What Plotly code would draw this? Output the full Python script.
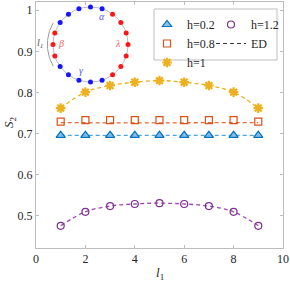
import numpy as np
import plotly.graph_objects as go

# ---------------- data ----------------
l1 = [1, 2, 3, 4, 5, 6, 7, 8, 9]
s2_h02 = [0.696, 0.696, 0.696, 0.696, 0.696, 0.696, 0.696, 0.696, 0.696]
s2_h08 = [0.729, 0.733, 0.733, 0.733, 0.733, 0.733, 0.733, 0.733, 0.729]
s2_h1 = [0.762, 0.801, 0.817, 0.825, 0.829, 0.825, 0.817, 0.801, 0.762]
s2_h12 = [0.476, 0.510, 0.524, 0.529, 0.531, 0.529, 0.524, 0.510, 0.476]

ed_h02 = [0.696, 0.696, 0.696, 0.696, 0.696, 0.696, 0.696, 0.696, 0.696]
ed_h08 = [0.727, 0.726, 0.726, 0.726, 0.726, 0.726, 0.726, 0.726, 0.727]
ed_h1 = [0.762, 0.801, 0.817, 0.825, 0.829, 0.825, 0.817, 0.801, 0.762]
ed_h12 = [0.476, 0.510, 0.524, 0.529, 0.531, 0.529, 0.524, 0.510, 0.476]

x_ticks = [0, 2, 4, 6, 8, 10]
y_ticks = [0.5, 0.6, 0.7, 0.8, 0.9, 1.0]
y_tick_labels = ["0.5", "0.6", "0.7", "0.8", "0.9", "1"]

# inset schematic: 20 sites on a ring
site_angles_deg = [90, 72, 54, 36, 18, 0, -18, -36, -54, -72,
                   -90, -108, -126, -144, -162, 180, 162, 144, 126, 108]
site_colors = ["b", "b", "r", "r", "r", "r", "r", "r", "r", "b",
               "b", "b", "b", "b", "r", "r", "r", "b", "b", "b"]

# ---------------- styles ----------------
FONT = "Liberation Serif"
C_BLUE = "#0072BD"
C_ORANGE = "#D95319"
C_YELLOW = "#EDB120"
C_PURPLE = "#7E2F8E"
AX_COLOR = "#BDBDBD"
DASH = "4px,3px"

W, H = 290, 281
ML, MR, MT, MB = 36, 7, 2, 33
PW, PH = W - ML - MR, H - MT - MB


def px2paper_x(px):
    return (px - ML) / PW


def px2paper_y(py):
    return (H - MB - py) / PH


fig = go.Figure()

# ED dashed curves
for ys, col, shape in [(ed_h02, "#4DA3DF", "linear"), (ed_h08, "#E46A3C", "linear"),
                       (ed_h1, C_YELLOW, "spline"), (ed_h12, "#9A4DAA", "spline")]:
    fig.add_trace(go.Scatter(x=l1, y=ys, mode="lines", showlegend=False,
                             line=dict(color=col, width=1.3, dash=DASH, shape=shape),
                             hoverinfo="skip"))

# markers
fig.add_trace(go.Scatter(x=l1, y=s2_h02, mode="markers", name="h=0.2", legend="legend",
                         marker=dict(symbol="triangle-up", size=8, color="rgba(120,180,230,0.85)",
                                     line=dict(color=C_BLUE, width=1.2))))
fig.add_trace(go.Scatter(x=l1, y=s2_h08, mode="markers", name="h=0.8", legend="legend",
                         marker=dict(symbol="square-open", size=7, color=C_ORANGE,
                                     line=dict(width=1.2))))
fig.add_trace(go.Scatter(x=l1, y=s2_h1, mode="markers", name="h=1", legend="legend",
                         marker=dict(symbol="asterisk-open", size=8, color=C_YELLOW,
                                     line=dict(color=C_YELLOW, width=2.2))))
fig.add_trace(go.Scatter(x=l1, y=s2_h12, mode="markers", name="h=1.2", legend="legend2",
                         marker=dict(symbol="circle-open", size=7, color=C_PURPLE,
                                     line=dict(width=1.2))))
fig.add_trace(go.Scatter(x=[None], y=[None], mode="lines", name="ED", legend="legend2",
                         line=dict(color="#333333", width=1.2, dash=DASH)))

# ---------------- inset ring ----------------
theta = np.linspace(0, 2 * np.pi, 200)
fig.add_trace(go.Scatter(x=np.cos(theta), y=np.sin(theta), mode="lines", xaxis="x2", yaxis="y2",
                         line=dict(color="#A8A8A8", width=0.8), showlegend=False, hoverinfo="skip"))
arc = np.deg2rad(np.linspace(150, 210, 40))
fig.add_trace(go.Scatter(x=1.15 * np.cos(arc), y=1.15 * np.sin(arc), mode="lines", xaxis="x2",
                         yaxis="y2", line=dict(color="#8C8C8C", width=0.9), showlegend=False,
                         hoverinfo="skip"))
ang = np.deg2rad(site_angles_deg)
cmap = {"b": "#1515FF", "r": "#FF1515"}
fig.add_trace(go.Scatter(x=np.cos(ang), y=np.sin(ang), mode="markers", xaxis="x2", yaxis="y2",
                         marker=dict(size=5, color=[cmap[c] for c in site_colors]),
                         showlegend=False, hoverinfo="skip"))

inset_labels = [("α", 0.30, 0.74, "#5A5AF5"), ("β", -0.78, 0.02, "#F55A5A"),
                ("λ", 0.72, 0.02, "#F55A5A"), ("γ", -0.24, -0.70, "#5A5AF5"),
                ("l<sub>1</sub>", -1.36, 0.02, "#555555")]
annotations = []
for t, x, y, c in inset_labels:
    annotations.append(dict(text=f"<i>{t}</i>", x=x, y=y, xref="x2", yref="y2", showarrow=False,
                            font=dict(family=FONT, size=10, color=c)))

# axis titles
annotations.append(dict(text="<i>l</i><sub>1</sub>", x=px2paper_x(160), y=px2paper_y(273),
                        xref="paper", yref="paper", showarrow=False, xanchor="center",
                        yanchor="middle", font=dict(family=FONT, size=13, color="#262626")))
annotations.append(dict(text="<i>S</i><sub>2</sub>", x=px2paper_x(9), y=px2paper_y(122),
                        xref="paper", yref="paper", showarrow=False, xanchor="center",
                        yanchor="middle", textangle=-90,
                        font=dict(family=FONT, size=13, color="#262626")))

# legend box
shapes = [dict(type="rect", xref="paper", yref="paper",
               x0=px2paper_x(154), x1=px2paper_x(277), y0=px2paper_y(60), y1=px2paper_y(9),
               line=dict(color="#BDBDBD", width=1), fillcolor="white", layer="below")]

axis_common = dict(showgrid=False, zeroline=False, showline=True, linecolor=AX_COLOR, linewidth=1,
                   mirror="ticks", ticks="inside", ticklen=3, tickcolor=AX_COLOR,
                   ticklabeloverflow="allow",
                   tickfont=dict(family=FONT, size=12, color="#262626"))

fig.update_layout(
    width=W, height=H,
    margin=dict(l=ML, r=MR, t=MT, b=MB, pad=0),
    paper_bgcolor="white", plot_bgcolor="rgba(0,0,0,0)",
    font=dict(family=FONT, color="#262626"),
    hovermode=False,
    xaxis=dict(range=[0, 10.001], tickvals=x_ticks, **axis_common),
    yaxis=dict(range=[0.422, 1.02], tickvals=y_ticks, ticktext=y_tick_labels, **axis_common),
    xaxis2=dict(domain=[px2paper_x(38), px2paper_x(143)], range=[-1.4, 1.4], visible=False,
                anchor="y2"),
    yaxis2=dict(domain=[px2paper_y(87), px2paper_y(2)], range=[-1.133, 1.133], visible=False,
                anchor="x2"),
    legend=dict(x=px2paper_x(147), y=px2paper_y(10), xanchor="left", yanchor="top",
                bgcolor="rgba(0,0,0,0)", borderwidth=0, itemwidth=30, entrywidth=30,
                font=dict(family=FONT, size=12, color="#262626"), tracegroupgap=0),
    legend2=dict(x=px2paper_x(211), y=px2paper_y(10), xanchor="left", yanchor="top",
                 bgcolor="rgba(0,0,0,0)", borderwidth=0, itemwidth=30, entrywidth=30,
                 font=dict(family=FONT, size=12, color="#262626"), tracegroupgap=0),
    shapes=shapes,
    annotations=annotations,
)

fig.write_html("out.html", config={"displayModeBar": False},
               post_script="document.body.style.margin='0';document.body.style.padding='0';")
